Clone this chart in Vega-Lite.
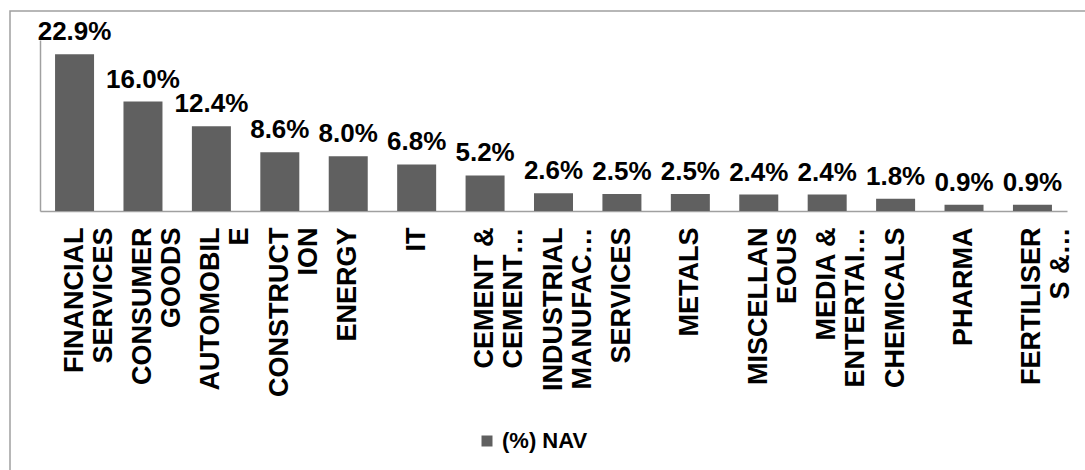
{
  "$schema": "https://vega.github.io/schema/vega-lite/v6.json",
  "autosize": "none",
  "width": 1080,
  "height": 465,
  "padding": {"left": 10, "top": 11, "right": -5, "bottom": -6},
  "background": "white",
  "config": {
    "font": "Liberation Sans",
    "view": {"stroke": "#a0a0a0", "strokeWidth": 1.5},
    "axis": {"grid": false, "domainColor": "#a0a0a0", "domainWidth": 1.5}
  },
  "data": {
    "values": [
      {"sector": "FINANCIAL\nSERVICES", "nav": 0.229},
      {"sector": "CONSUMER\nGOODS", "nav": 0.160},
      {"sector": "AUTOMOBIL\nE", "nav": 0.124},
      {"sector": "CONSTRUCT\nION", "nav": 0.086},
      {"sector": "ENERGY", "nav": 0.080},
      {"sector": "IT", "nav": 0.068},
      {"sector": "CEMENT &\nCEMENT…", "nav": 0.052},
      {"sector": "INDUSTRIAL\nMANUFAC…", "nav": 0.026},
      {"sector": "SERVICES", "nav": 0.025},
      {"sector": "METALS", "nav": 0.025},
      {"sector": "MISCELLAN\nEOUS", "nav": 0.024},
      {"sector": "MEDIA &\nENTERTAI…", "nav": 0.024},
      {"sector": "CHEMICALS", "nav": 0.018},
      {"sector": "PHARMA", "nav": 0.009},
      {"sector": "FERTILISER\nS &…", "nav": 0.009}
    ]
  },
  "encoding": {
    "x": {
      "field": "sector",
      "type": "nominal",
      "sort": null,
      "scale": {"range": [30, 1057], "paddingInner": 0.43, "paddingOuter": 0.22},
      "axis": {
        "title": null,
        "orient": "bottom",
        "offset": -265,
        "ticks": false,
        "tickSize": 0,
        "labelAngle": -90,
        "labelAlign": "right",
        "labelBaseline": "middle",
        "labelPadding": 16,
        "labelFontSize": 27,
        "labelFontWeight": "bold",
        "labelColor": "#000000",
        "labelLineHeight": 29,
        "labelOverlap": false,
        "labelLimit": 0,
        "labelExpr": "split(datum.value, '\\n')"
      }
    },
    "y": {
      "field": "nav",
      "type": "quantitative",
      "scale": {"domain": [0, 0.25], "range": [200, 29], "nice": false, "zero": true},
      "axis": {
        "title": null,
        "orient": "left",
        "offset": -30,
        "labels": false,
        "ticks": false,
        "grid": false
      }
    }
  },
  "layer": [
    {
      "mark": {"type": "bar"},
      "encoding": {
        "color": {
          "datum": "(%) NAV",
          "type": "nominal",
          "scale": {"range": ["#606060"]},
          "legend": {
            "title": null,
            "orient": "none",
            "legendX": 466,
            "legendY": 419,
            "symbolType": "square",
            "symbolSize": 121,
            "symbolStrokeWidth": 0,
            "labelFontSize": 22,
            "labelFontWeight": "bold",
            "labelColor": "#000000",
            "labelOffset": 4,
            "padding": 0
          }
        }
      }
    },
    {
      "mark": {
        "type": "text",
        "fontSize": 26,
        "fontWeight": "bold",
        "color": "#000000",
        "baseline": "alphabetic",
        "dy": -14
      },
      "encoding": {
        "text": {"field": "nav", "type": "quantitative", "format": ".1%"}
      }
    }
  ]
}
